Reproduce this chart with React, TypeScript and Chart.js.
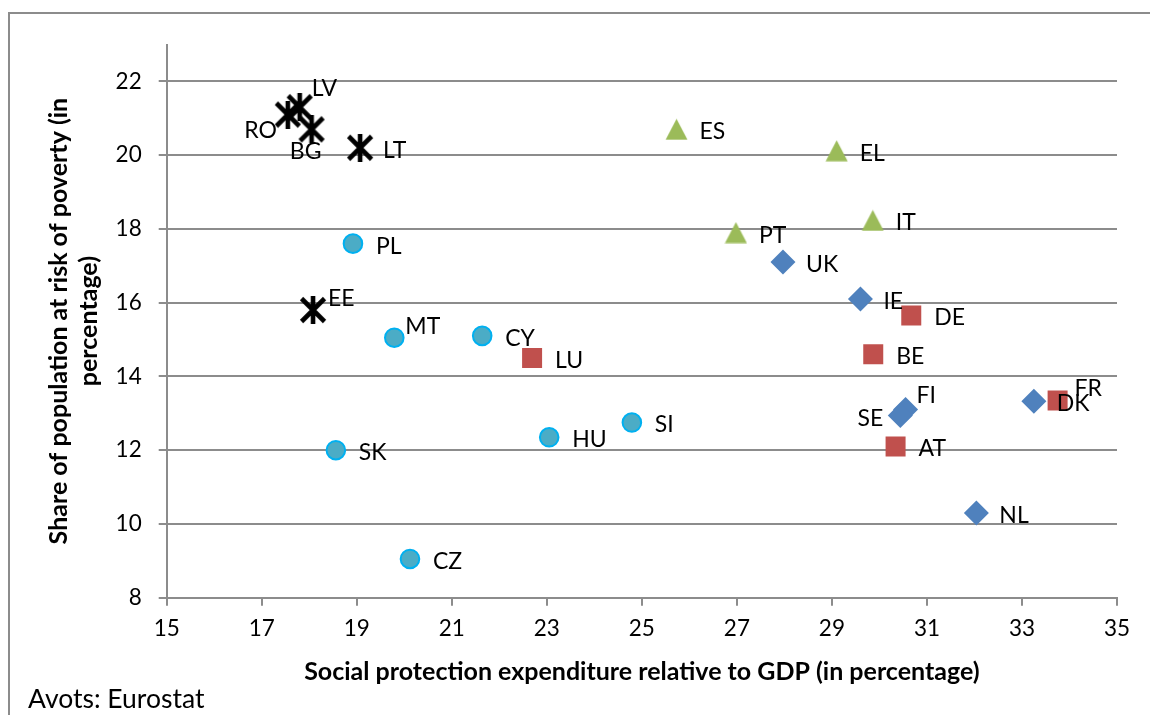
import React, { useEffect, useRef } from 'react';
import { Chart, registerables } from 'chart.js';

Chart.register(...registerables);

// ---------- data ----------
const crossCountries = ['RO', 'LV', 'BG', 'LT', 'EE'];
const crossX = [17.55, 17.8, 18.05, 19.07, 18.08];
const crossY = [21.1, 21.3, 20.7, 20.2, 15.8];

const circleCountries = ['PL', 'MT', 'CY', 'SK', 'HU', 'SI', 'CZ'];
const circleX = [18.92, 19.79, 21.64, 18.56, 23.05, 24.79, 20.12];
const circleY = [17.6, 15.05, 15.1, 12.0, 12.35, 12.75, 9.05];

const squareCountries = ['LU', 'DE', 'BE', 'AT', 'FR'];
const squareX = [22.69, 30.67, 29.87, 30.34, 33.75];
const squareY = [14.5, 15.65, 14.6, 12.1, 13.35];

const diamondCountries = ['UK', 'IE', 'FI', 'SE', 'DK', 'NL'];
const diamondX = [27.97, 29.6, 30.55, 30.44, 33.25, 32.04];
const diamondY = [17.1, 16.1, 13.1, 12.94, 13.33, 10.3];

const triangleCountries = ['ES', 'EL', 'IT', 'PT'];
const triangleX = [25.73, 29.1, 29.86, 26.98];
const triangleY = [20.7, 20.12, 18.23, 17.9];

const xTicks = [15, 17, 19, 21, 23, 25, 27, 29, 31, 33, 35];
const yTicks = [8, 10, 12, 14, 16, 18, 20, 22];

const xTitle = 'Social protection expenditure relative to GDP (in percentage)';
const yTitle = ['Share of population at risk of poverty (in', 'percentage)'];
const sourceNote = 'Avots: Eurostat';

// ---------- styling ----------
const FONT = 'Lato, "Open Sans", sans-serif';
const GRID = '#8c8c8c';

// label placement relative to the marker: [dx, dy, align]
const labelPlacement: Record<string, [number, number, CanvasTextAlign]> = {
  LV: [12, -19.5, 'left'],
  RO: [-11, 15, 'right'],
  BG: [-6, 21, 'center'],
  EE: [15, -12.5, 'left'],
  MT: [11, -12, 'left'],
  FI: [11, -15, 'left'],
  SE: [-17, 2, 'right'],
  FR: [17, -13.3, 'left'],
};
const defaultPlacement: [number, number, CanvasTextAlign] = [23, 1.5, 'left'];

function makeAsterisk(): HTMLCanvasElement {
  const c = document.createElement('canvas');
  c.width = 28;
  c.height = 28;
  const g = c.getContext('2d')!;
  g.strokeStyle = '#000';
  g.lineWidth = 4.6;
  g.beginPath();
  g.moveTo(2.5, 2.5);
  g.lineTo(25.5, 25.5);
  g.moveTo(25.5, 2.5);
  g.lineTo(2.5, 25.5);
  g.moveTo(14, 0);
  g.lineTo(14, 28);
  g.stroke();
  return c;
}

function makeTriangle(): HTMLCanvasElement {
  const c = document.createElement('canvas');
  c.width = 23;
  c.height = 22;
  const g = c.getContext('2d')!;
  g.fillStyle = '#9BBB59';
  g.beginPath();
  g.moveTo(11.5, 0.5);
  g.lineTo(22.5, 21.5);
  g.lineTo(0.5, 21.5);
  g.closePath();
  g.fill();
  return c;
}

const toPoints = (xs: number[], ys: number[]) => xs.map((x, i) => ({ x, y: ys[i] }));

const labelPlugin = {
  id: 'countryLabels',
  afterDatasetsDraw(chart: any) {
    const ctx = chart.ctx as CanvasRenderingContext2D;
    ctx.save();
    ctx.font = `23px ${FONT}`;
    ctx.fillStyle = '#000';
    ctx.textBaseline = 'middle';
    chart.data.datasets.forEach((ds: any, i: number) => {
      const meta = chart.getDatasetMeta(i);
      meta.data.forEach((el: any, j: number) => {
        const name = ds.countries[j];
        const [dx, dy, align] = labelPlacement[name] || defaultPlacement;
        ctx.textAlign = align;
        ctx.fillText(name, el.x + dx, el.y + dy + 1);
      });
    });
    ctx.restore();
  },
  afterDraw(chart: any) {
    const ctx = chart.ctx as CanvasRenderingContext2D;
    ctx.save();
    ctx.font = `26.5px ${FONT}`;
    ctx.fillStyle = '#000';
    ctx.textAlign = 'left';
    ctx.textBaseline = 'alphabetic';
    ctx.fillText(sourceNote, 18, 694);
    ctx.restore();
  },
};

export default function App() {
  const ref = useRef<HTMLCanvasElement>(null);

  useEffect(() => {
    if (!ref.current) return;
    const asterisk = makeAsterisk();
    const triangle = makeTriangle();
    const chart = new Chart(ref.current, {
      type: 'scatter',
      data: {
        datasets: [
          {
            countries: diamondCountries,
            data: toPoints(diamondX, diamondY),
            pointStyle: 'rectRot',
            pointRadius: 12.5,
            backgroundColor: '#4F81BD',
            borderColor: '#4F81BD',
            borderWidth: 0,
          },
          {
            countries: squareCountries,
            data: toPoints(squareX, squareY),
            pointStyle: 'rect',
            pointRadius: 14.14,
            backgroundColor: '#C0504D',
            borderColor: '#C0504D',
            borderWidth: 0,
          },
          {
            countries: triangleCountries,
            data: toPoints(triangleX, triangleY),
            pointStyle: triangle,
            pointRadius: 11,
            backgroundColor: '#9BBB59',
            borderWidth: 0,
          },
          {
            countries: circleCountries,
            data: toPoints(circleX, circleY),
            pointStyle: 'circle',
            pointRadius: 9.3,
            backgroundColor: '#4BACC6',
            borderColor: '#00B0F0',
            borderWidth: 2,
          },
          {
            countries: crossCountries,
            data: toPoints(crossX, crossY),
            pointStyle: asterisk,
            pointRadius: 14,
            backgroundColor: '#000',
            borderWidth: 0,
          },
        ] as any,
      },
      options: {
        animation: false,
        responsive: false,
        events: [],
        layout: { padding: { top: 28, right: 33, left: 0, bottom: 0 } },
        plugins: {
          legend: { display: false },
          tooltip: { enabled: false },
        },
        scales: {
          x: {
            type: 'linear',
            min: 15,
            max: 35,
            afterBuildTicks: (s: any) => {
              s.ticks = xTicks.map((v) => ({ value: v }));
            },
            afterFit: (s: any) => {
              s.height = 117.3;
            },
            grid: {
              drawOnChartArea: false,
              drawTicks: true,
              tickLength: 8,
              color: GRID,
              lineWidth: 2,
            },
            border: { display: true, color: GRID, width: 2 },
            ticks: {
              font: { family: FONT, size: 22.5 },
              color: '#000',
              padding: 10,
              maxRotation: 0,
              autoSkip: false,
            },
            title: {
              display: true,
              text: xTitle,
              color: '#000',
              font: { family: FONT, size: 25, weight: 'bold', lineHeight: 1.2 },
              padding: { top: 0, bottom: 28 },
            },
          },
          y: {
            type: 'linear',
            min: 8,
            max: 23,
            afterBuildTicks: (s: any) => {
              s.ticks = yTicks.map((v) => ({ value: v }));
            },
            afterFit: (s: any) => {
              s.width = 156.7;
            },
            grid: {
              drawOnChartArea: true,
              drawTicks: true,
              tickLength: 8,
              color: GRID,
              lineWidth: 2,
            },
            border: { display: true, color: GRID, width: 2 },
            ticks: {
              font: { family: FONT, size: 22.5 },
              color: '#000',
              padding: 17,
              autoSkip: false,
            },
            title: {
              display: true,
              text: yTitle,
              color: '#000',
              font: { family: FONT, size: 25, weight: 'bold', lineHeight: 1.2 },
              padding: { top: 34, bottom: 0 },
            },
          },
        },
      } as any,
      plugins: [labelPlugin],
    });
    return () => chart.destroy();
  }, []);

  return (
    <div
      style={{
        position: 'fixed',
        left: 8,
        top: 12,
        width: 1142,
        height: 703,
        boxSizing: 'border-box',
        borderTop: '2px solid #8c8c8c',
        borderLeft: '2px solid #8c8c8c',
        background: '#fff',
      }}
    >
      <canvas ref={ref} width={1140} height={701} style={{ display: 'block', width: 1140, height: 701 }} />
    </div>
  );
}
